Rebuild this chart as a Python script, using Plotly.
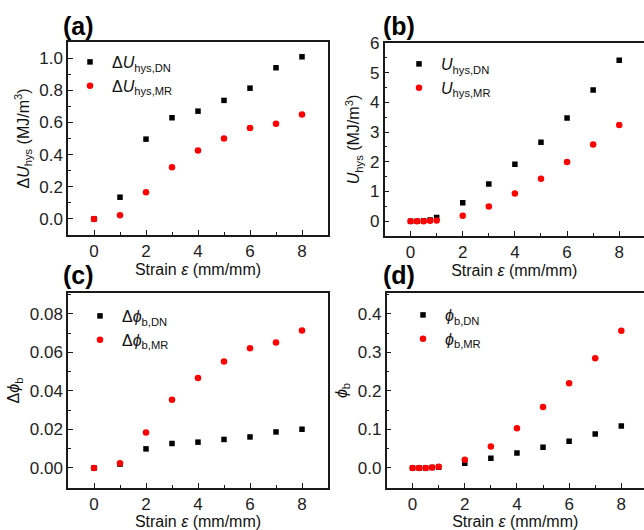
import plotly.graph_objects as go

# ---- data ----
strain_a = [0, 1, 2, 3, 4, 5, 6, 7, 8]
dU_DN = [0.0, 0.135, 0.496, 0.629, 0.670, 0.737, 0.813, 0.940, 1.008]
dU_MR = [0.0, 0.023, 0.166, 0.322, 0.425, 0.500, 0.566, 0.591, 0.649]

strain_b = [0, 0.25, 0.5, 0.75, 1, 2, 3, 4, 5, 6, 7, 8]
U_DN = [0.0, 0.0, 0.01, 0.04, 0.12, 0.62, 1.25, 1.92, 2.66, 3.47, 4.42, 5.42]
U_MR = [0.0, 0.0, 0.0, 0.01, 0.02, 0.18, 0.49, 0.93, 1.43, 1.99, 2.58, 3.24]

strain_c = [0, 1, 2, 3, 4, 5, 6, 7, 8]
dphi_DN = [0.0, 0.002, 0.0099, 0.0127, 0.0134, 0.0148, 0.0161, 0.0187, 0.0201]
dphi_MR = [0.0, 0.0024, 0.0184, 0.0354, 0.0467, 0.0552, 0.0621, 0.0651, 0.0713]

strain_d = [0, 0.25, 0.5, 0.75, 1, 2, 3, 4, 5, 6, 7, 8]
phi_DN = [0.0, 0.0, 0.0, 0.001, 0.002, 0.012, 0.025, 0.039, 0.054, 0.069, 0.088, 0.109]
phi_MR = [0.0, 0.0, 0.0, 0.001, 0.003, 0.021, 0.056, 0.103, 0.158, 0.220, 0.285, 0.356]

names = {
    "a": ("Δ<i>U</i><sub>hys,DN</sub>", "Δ<i>U</i><sub>hys,MR</sub>"),
    "b": ("<i>U</i><sub>hys,DN</sub>", "<i>U</i><sub>hys,MR</sub>"),
    "c": ("Δ<i>ϕ</i><sub>b,DN</sub>", "Δ<i>ϕ</i><sub>b,MR</sub>"),
    "d": ("<i>ϕ</i><sub>b,DN</sub>", "<i>ϕ</i><sub>b,MR</sub>"),
}
ytitles = {
    "a": "Δ<i>U</i><sub>hys</sub> (MJ/m<sup>3</sup>)",
    "b": "<i>U</i><sub>hys</sub> (MJ/m<sup>3</sup>)",
    "c": "Δ<i>ϕ</i><sub>b</sub>",
    "d": "<i>ϕ</i><sub>b</sub>",
}
xtitle = "Strain <i>ε</i> (mm/mm)"

W, H = 644, 530
FONT = "Liberation Sans, Arial, sans-serif"
AX = "#1a1a1a"

fig = go.Figure()

panels = [
    ("a", strain_a, dU_DN, dU_MR, "x", "y", "legend"),
    ("b", strain_b, U_DN, U_MR, "x2", "y2", "legend2"),
    ("c", strain_c, dphi_DN, dphi_MR, "x3", "y3", "legend3"),
    ("d", strain_d, phi_DN, phi_MR, "x4", "y4", "legend4"),
]
for key, xs, dn, mr, xa, ya, lg in panels:
    fig.add_trace(go.Scatter(x=xs, y=dn, mode="markers", name=names[key][0],
                             marker=dict(symbol="square", size=5.5, color="black"),
                             xaxis=xa, yaxis=ya, legend=lg))
    fig.add_trace(go.Scatter(x=xs, y=mr, mode="markers", name=names[key][1],
                             marker=dict(symbol="circle", size=6.5, color="#ff0000"),
                             xaxis=xa, yaxis=ya, legend=lg))

def px_x(p):
    return p / W

def px_y(p):
    return 1 - p / H

def make_xaxis(domain, rng, anchor, mirror=True):
    return dict(domain=domain, range=rng, anchor=anchor, tick0=0, dtick=2, automargin=False,
                ticks="inside", ticklen=5, tickwidth=1.3, tickcolor=AX,
                minor=dict(ticks="inside", ticklen=3, dtick=1),
                showline=True, linewidth=1.5, linecolor=AX, mirror=mirror,
                showgrid=False, zeroline=False,
                tickfont=dict(size=17, color="#222", family=FONT),
                title=dict(text=xtitle, font=dict(size=16, color="#111", family=FONT), standoff=4))

def make_yaxis(domain, rng, anchor, dtick, fmt, title, mirror=True):
    return dict(domain=domain, range=rng, anchor=anchor, tick0=0, dtick=dtick, tickformat=fmt,
                automargin=False,
                ticks="inside", ticklen=5, tickwidth=1.3, tickcolor=AX,
                minor=dict(ticks="inside", ticklen=3, dtick=dtick / 2),
                showline=True, linewidth=1.5, linecolor=AX, mirror=mirror,
                showgrid=False, zeroline=False,
                tickfont=dict(size=17, color="#222", family=FONT),
                title=dict(text=title, font=dict(size=16, color="#111", family=FONT), standoff=6))

dom_ax = [px_x(68), px_x(328)]
dom_bx = [px_x(384.5), 1.0]
dom_cx = [px_x(68), px_x(328)]
dom_dx = [px_x(386.5), 1.0]
dom_ay = [px_y(235), px_y(42)]
dom_by = [px_y(236), px_y(43)]
dom_cy = [px_y(488), px_y(293)]
dom_dy = [px_y(488), px_y(293)]

def legend(xp, yp):
    return dict(x=px_x(xp), y=px_y(yp), xanchor="left", yanchor="top",
                bgcolor="rgba(0,0,0,0)", borderwidth=0,
                font=dict(size=16, color="#111", family=FONT),
                tracegroupgap=0, itemwidth=34)

fig.update_layout(
    width=W, height=H, margin=dict(l=0, r=0, t=0, b=0, autoexpand=False),
    paper_bgcolor="white", plot_bgcolor="white",
    font=dict(family=FONT, color="#111"),
    xaxis=make_xaxis(dom_ax, [-1, 9], "y"),
    yaxis=make_yaxis(dom_ay, [-0.1, 1.1], "x", 0.2, ".1f", ytitles["a"]),
    xaxis2=make_xaxis(dom_bx, [-1, 8.95], "y2"),
    yaxis2=make_yaxis(dom_by, [-0.5, 6], "x2", 1, "d", ytitles["b"], mirror=False),
    xaxis3=make_xaxis(dom_cx, [-1, 9], "y3"),
    yaxis3=make_yaxis(dom_cy, [-0.0104, 0.0908], "x3", 0.02, ".2f", ytitles["c"]),
    xaxis4=make_xaxis(dom_dx, [-1, 8.87], "y4"),
    yaxis4=make_yaxis(dom_dy, [-0.052, 0.454], "x4", 0.1, ".1f", ytitles["d"], mirror=False),
    legend=legend(68, 45),
    legend2=legend(397, 47),
    legend3=legend(78, 299),
    legend4=legend(401, 298),
    showlegend=True,
)

labels = [("(a)", 78, 26), ("(b)", 399, 26), ("(c)", 78, 275), ("(d)", 399, 275)]
for txt, xp, yp in labels:
    fig.add_annotation(text="<b>" + txt + "</b>", x=px_x(xp), y=px_y(yp), xref="paper", yref="paper",
                       showarrow=False, xanchor="center", yanchor="middle",
                       font=dict(size=25, color="black", family=FONT))

fig.write_html("out.html", config={"displayModeBar": False},
               post_script="document.body.style.margin='0';")
